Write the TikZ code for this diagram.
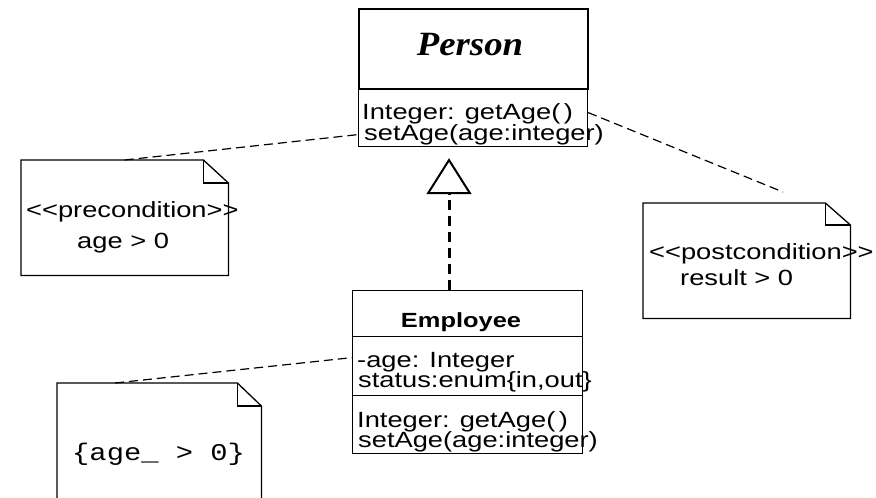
\documentclass[tikz,border=0pt]{standalone}
\usepackage{fontspec}
\usepackage{tikz}
\usepackage{xcolor}
\usetikzlibrary{arrows.meta}

\newfontfamily\umlsans{Liberation Sans}[FakeStretch=1.24,Ligatures=TeXOff]
\newfontfamily\umlserif{Liberation Serif}[FakeStretch=1.08]
\newfontfamily\umlmono{Liberation Mono}[FakeStretch=1.2]

\begin{document}
\begin{tikzpicture}[x=1pt, y=-1pt]

        %--- Styles
        \tikzstyle{compart}=[draw, rectangle, line width=1.2pt, inner sep=0pt, anchor=north west]
        \tikzstyle{title compart}=[compart, line width=2pt]
        \tikzstyle{note body}=[rectangle, inner sep=0pt, anchor=north west]
        \tikzstyle{note line}=[line width=1.3pt]
        \tikzstyle{member}=[anchor=base west, inner sep=0pt, font=\umlsans\fontsize{22}{21}\selectfont]
        \tikzstyle{note link}=[line width=1.2pt, dash pattern=on 9pt off 5pt]
        \tikzstyle{realize}=[line width=3pt, dash pattern=on 10pt off 6pt, -{Triangle[open, length=36pt, width=45pt, line width=2pt]}, shorten >=11pt]

        \useasboundingbox (0,0) rectangle (876,498);

        %--- Class Person
        \node[title compart, minimum width=229pt, minimum height=80pt] (pName) at (358,8)  {};
        \node[compart, minimum width=229pt, minimum height=58pt]       (pOps)  at (358,88) {};
        \node[anchor=base, inner sep=0pt, font=\umlserif\bfseries\itshape\fontsize{34}{38}\selectfont] (pTitle) at (470,55) {Person};
        \node[member] (pOp1) at (362,119) {Integer: getAge(\,)};
        \node[member] (pOp2) at (364,140) {setAge(age:integer)};

        %--- Class Employee
        \node[compart, minimum width=230pt, minimum height=46pt] (eName) at (352,290) {};
        \node[compart, minimum width=230pt, minimum height=59pt] (eAttr) at (352,336) {};
        \node[compart, minimum width=230pt, minimum height=58pt] (eOps)  at (352,395) {};
        \node[anchor=base, inner sep=0pt, font=\umlsans\bfseries\fontsize{20.5}{24}\selectfont] (eTitle) at (461,327) {Employee};
        \node[member] (eAt1) at (357,367) {-age: Integer};
        \node[member] (eAt2) at (358,387) {status:enum\{in,out\}};
        \node[member] (eOp1) at (357,427) {Integer: getAge(\,)};
        \node[member] (eOp2) at (358,447) {setAge(age:integer)};

        %--- Realization
        \coordinate (gx) at (449,0);
        \draw[realize] (gx |- eName.north) -- (gx |- pOps.south);

        %--- Note: precondition
        \node[note body, minimum width=207pt, minimum height=115pt] (preNote) at (21,160) {};
        \draw[note line] (preNote.north west) -- ([xshift=-25pt]preNote.north east) -- ([yshift=-23pt]preNote.north east)
            -- (preNote.south east) -- (preNote.south west) -- cycle;
        \draw[note line] ([xshift=-25pt]preNote.north east) -- ([xshift=-25pt,yshift=-23pt]preNote.north east) -- ([yshift=-23pt]preNote.north east);
        \node[member] (preT1) at (26,217) {<<precondition>>};
        \node[member] (preT2) at (77,248) {age > 0};

        %--- Note: postcondition
        \node[note body, minimum width=207pt, minimum height=115pt] (postNote) at (643,203) {};
        \draw[note line] (postNote.north west) -- ([xshift=-25pt]postNote.north east) -- ([yshift=-22pt]postNote.north east)
            -- (postNote.south east) -- (postNote.south west) -- cycle;
        \draw[note line] ([xshift=-25pt]postNote.north east) -- ([xshift=-25pt,yshift=-22pt]postNote.north east) -- ([yshift=-22pt]postNote.north east);
        \node[member] (postT1) at (649,259) {<<postcondition>>};
        \node[member] (postT2) at (680,285) {result > 0};

        %--- Note: invariant
        \node[note body, minimum width=204pt, minimum height=125pt] (invNote) at (57,383) {};
        \draw[note line] (invNote.north west) -- ([xshift=-24pt]invNote.north east) -- ([yshift=-23pt]invNote.north east)
            -- (invNote.south east) -- (invNote.south west) -- cycle;
        \draw[note line] ([xshift=-24pt]invNote.north east) -- ([xshift=-24pt,yshift=-23pt]invNote.north east) -- ([yshift=-23pt]invNote.north east);
        \node[anchor=base west, inner sep=0pt, font=\umlmono\fontsize{24}{26}\selectfont] (invT) at (72,460) {\{age\_ > 0\}};

        %--- Note links
        \coordinate (postEnd) at (783,192);
        \draw[note link] (preNote.north) -- ([yshift=-17pt]pOps.west);
        \draw[note link] ([yshift=5pt]pOps.east) -- (postEnd);
        \draw[note link] ([xshift=58pt]invNote.north west) -- ([yshift=8.5pt]eAttr.west);

\end{tikzpicture}
\end{document}
